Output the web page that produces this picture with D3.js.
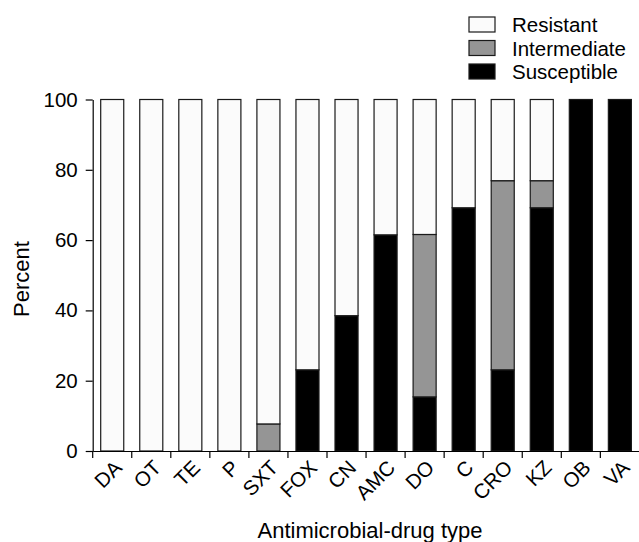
<!DOCTYPE html>
<html>
<head>
<meta charset="utf-8">
<script src="https://cdn.jsdelivr.net/npm/d3@7"></script>
<style>
  html, body { margin: 0; padding: 0; background: #fff; }
  svg text { font-family: "Liberation Sans", Arial, sans-serif; fill: #000; }
</style>
</head>
<body>
<div id="chart"></div>
<script>
// Chart data (percent of isolates).
const categories = ['DA', 'OT', 'TE', 'P', 'SXT', 'FOX', 'CN', 'AMC', 'DO', 'C', 'CRO', 'KZ', 'OB', 'VA'];
const susceptible = [0, 0, 0, 0, 0, 23.1, 38.5, 61.5, 15.4, 69.2, 23.1, 69.2, 100, 100];
const intermediate = [0, 0, 0, 0, 7.7, 0, 0, 0, 46.2, 0, 53.8, 7.7, 0, 0];
const resistant = [100, 100, 100, 100, 92.3, 76.9, 61.5, 38.5, 38.4, 30.8, 23.1, 23.1, 0, 0];
const yTicks = [0, 20, 40, 60, 80, 100];

const seriesKeys = ['Susceptible', 'Intermediate', 'Resistant'];
const seriesColors = { Susceptible: '#000000', Intermediate: '#959595', Resistant: '#fbfbfb' };
const legendOrder = ['Resistant', 'Intermediate', 'Susceptible'];

const width = 639, height = 542;

let svg = d3.select('#chart')
            .append('svg')
            .attr('width', width)
            .attr('height', height);

// table built for d3.stack
let rows = categories.map((c, i) => ({
  drug: c,
  Susceptible: susceptible[i],
  Intermediate: intermediate[i],
  Resistant: resistant[i]
}));

let x = d3.scaleBand()
          .domain(categories)
          .range([92.7, 639.4])
          .paddingInner(0.41)
          .paddingOuter(0.205);

let y = d3.scaleLinear()
          .domain([0, 100])
          .range([451, 99.5]);

let stacked = d3.stack().keys(seriesKeys)(rows);

// bars
svg.append('g')
   .selectAll('g.series')
   .data(stacked)
   .enter()
   .append('g')
   .attr('class', 'series')
   .attr('fill', d => seriesColors[d.key])
   .selectAll('rect')
   .data(d => d.filter(p => p[1] - p[0] > 0))
   .enter()
   .append('rect')
   .attr('x', d => x(d.data.drug))
   .attr('y', d => y(d[1]))
   .attr('width', x.bandwidth())
   .attr('height', d => y(d[0]) - y(d[1]))
   .attr('stroke', '#1a1a1a')
   .attr('stroke-width', 1.2);

// y axis
let yAxis = svg.append('g')
               .attr('transform', 'translate(92.7,0)')
               .call(d3.axisLeft(y).tickValues(yTicks).tickSize(7).tickSizeOuter(0).tickPadding(8));

yAxis.selectAll('text').style('font-size', '20.5px');

// x axis, ticks sit on the category boundaries
let step = x.step();
let xAxis = svg.append('g')
               .attr('transform', 'translate(0,451)')
               .call(d3.axisBottom(x).tickSize(7).tickSizeOuter(0).tickFormat(''));

xAxis.selectAll('.tick line')
     .attr('transform', `translate(${-step / 2},0)`);

svg.selectAll('path.domain, .tick line')
   .attr('stroke', '#000')
   .attr('stroke-width', 1.2);

// rotated category labels
svg.append('g')
   .selectAll('text')
   .data(categories)
   .enter()
   .append('text')
   .attr('transform', d => `translate(${x(d) + x.bandwidth() / 2 + 11},469) rotate(-45)`)
   .attr('text-anchor', 'end')
   .style('font-size', '20.5px')
   .text(d => d);

// axis titles
svg.append('text')
   .attr('x', 370)
   .attr('y', 538)
   .attr('text-anchor', 'middle')
   .style('font-size', '22px')
   .text('Antimicrobial-drug type');

svg.append('text')
   .attr('transform', 'translate(29,279) rotate(-90)')
   .attr('text-anchor', 'middle')
   .style('font-size', '22px')
   .text('Percent');

// legend
let legend = svg.append('g')
                .selectAll('g')
                .data(legendOrder)
                .enter()
                .append('g')
                .attr('transform', (d, i) => `translate(469,${17 + i * 23.5})`);

legend.append('rect')
      .attr('width', 26)
      .attr('height', 15)
      .attr('fill', d => seriesColors[d])
      .attr('stroke', '#1a1a1a')
      .attr('stroke-width', 1.2);

legend.append('text')
      .attr('x', 43)
      .attr('y', 15)
      .style('font-size', '20.5px')
      .text(d => d);
</script>
</body>
</html>
